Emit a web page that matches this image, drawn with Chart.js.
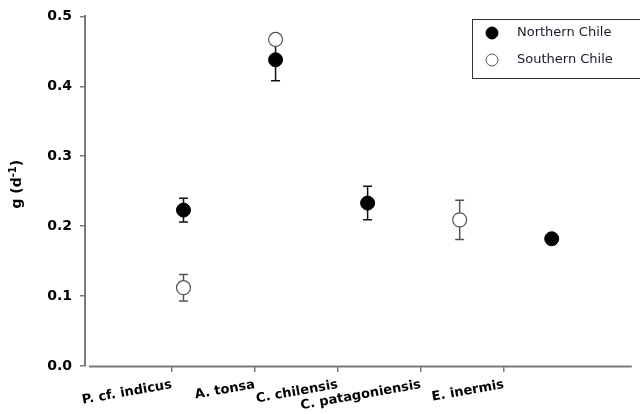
<!DOCTYPE html>
<html>
<head>
<meta charset="utf-8">
<script src="https://cdn.jsdelivr.net/npm/chart.js@4"></script>
<style>
  html, body { margin: 0; padding: 0; background: #fff; }
  #wrap { width: 640px; height: 414px; position: relative; }
</style>
</head>
<body>
<div id="wrap"><canvas id="c" width="640" height="414"></canvas></div>
<script>
// ---- data ----
const categories = ['P. cf. indicus', 'A. tonsa', 'C. chilensis', 'C. patagoniensis', 'E. inermis'];
const northMean = [0.223, 0.438, 0.233, null, 0.182];
const northErr  = [0.017, 0.030, 0.024, null, 0.004];
const southMean = [0.112, 0.467, null, 0.209, null];
const southErr  = [0.019, 0.008, null, 0.028, null];
const yTicks = [0.0, 0.1, 0.2, 0.3, 0.4, 0.5];
const seriesNames = ['Northern Chile', 'Southern Chile'];

const AXIS_COLOR = '#7a7a7a';
const X_TICK_FONT = { family: 'DejaVu Sans', size: 13, weight: 'bold' };
const Y_TICK_FONT = { family: 'DejaVu Sans', size: 14, weight: 'bold' };

function toPoints(arr, errs) {
  return arr.map((v, i) => v === null ? null : { x: i + 1, y: v, err: errs[i] }).filter(p => p);
}

const errorBars = {
  id: 'errorBars',
  beforeDatasetsDraw(chart) {
    const ctx = chart.ctx;
    const ys = chart.scales.y;
    chart.data.datasets.forEach((ds, di) => {
      const meta = chart.getDatasetMeta(di);
      ctx.save();
      ctx.strokeStyle = ds.errColor;
      ctx.lineWidth = 1.5;
      meta.data.forEach((el, i) => {
        const p = ds.data[i];
        const x = el.x;
        const yt = ys.getPixelForValue(p.y + p.err);
        const yb = ys.getPixelForValue(p.y - p.err);
        ctx.beginPath();
        ctx.moveTo(x, yt); ctx.lineTo(x, yb);
        ctx.moveTo(x - 4.5, yt); ctx.lineTo(x + 4.5, yt);
        ctx.moveTo(x - 4.5, yb); ctx.lineTo(x + 4.5, yb);
        ctx.stroke();
      });
      ctx.restore();
    });
  }
};

const decorations = {
  id: 'decorations',
  afterDraw(chart) {
    const ctx = chart.ctx;
    const a = chart.chartArea;
    // x axis line (slightly detached from y axis like the original)
    ctx.save();
    ctx.strokeStyle = AXIS_COLOR;
    ctx.lineWidth = 2;
    ctx.beginPath();
    ctx.moveTo(a.left + 4, a.bottom + 0.5);
    ctx.lineTo(a.right, a.bottom + 0.5);
    ctx.stroke();
    ctx.restore();

    // y axis title with superscript
    ctx.save();
    const cy = (a.top + a.bottom) / 2 - 7;
    ctx.translate(17, cy);
    ctx.rotate(-Math.PI / 2);
    ctx.fillStyle = '#000';
    ctx.textBaseline = 'middle';
    const main1 = 'g (d', sup = '-1', main2 = ')';
    ctx.font = 'bold 14px "DejaVu Sans"';
    const w1 = ctx.measureText(main1).width, w3 = ctx.measureText(main2).width;
    ctx.font = 'bold 10px "DejaVu Sans"';
    const w2 = ctx.measureText(sup).width;
    let x = -(w1 + w2 + w3) / 2;
    ctx.font = 'bold 14px "DejaVu Sans"';
    ctx.textAlign = 'left';
    ctx.fillText(main1, x, 0); x += w1;
    ctx.font = 'bold 10px "DejaVu Sans"';
    ctx.fillText(sup, x, -4); x += w2;
    ctx.font = 'bold 14px "DejaVu Sans"';
    ctx.fillText(main2, x, 0);
    ctx.restore();

    // legend box
    ctx.save();
    ctx.strokeStyle = '#333';
    ctx.lineWidth = 1;
    ctx.strokeRect(472.5, 19.5, 170, 59);
    ctx.font = '13px "DejaVu Sans"';
    ctx.textBaseline = 'middle';
    ctx.textAlign = 'left';
    const rows = [33, 60];
    chart.data.datasets.forEach((ds, i) => {
      ctx.beginPath();
      ctx.arc(492, rows[i], 6, 0, Math.PI * 2);
      ctx.fillStyle = ds.backgroundColor;
      ctx.fill();
      ctx.lineWidth = 1;
      ctx.strokeStyle = ds.borderColor;
      ctx.stroke();
      ctx.fillStyle = '#1a1a2a';
      ctx.fillText(ds.label, 517, rows[i]);
    });
    ctx.restore();
  }
};

new Chart(document.getElementById('c'), {
  type: 'scatter',
  data: {
    datasets: [
      {
        label: seriesNames[0],
        data: toPoints(northMean, northErr),
        xAxisID: 'xd',
        backgroundColor: '#000',
        borderColor: '#000',
        errColor: '#111',
        pointRadius: 7,
        pointHoverRadius: 7,
        borderWidth: 1
      },
      {
        label: seriesNames[1],
        data: toPoints(southMean, southErr),
        xAxisID: 'xd',
        backgroundColor: '#fff',
        borderColor: '#555',
        errColor: '#555',
        pointRadius: 7,
        pointHoverRadius: 7,
        borderWidth: 1.2
      }
    ]
  },
  plugins: [errorBars, decorations],
  options: {
    responsive: false,
    animation: false,
    events: [],
    layout: { padding: { top: 16, right: 0, left: 0, bottom: 0 } },
    plugins: { legend: { display: false }, tooltip: { enabled: false } },
    scales: {
      xd: {
        type: 'linear',
        display: false,
        min: -0.07,
        max: 5.87
      },
      x: {
        type: 'linear',
        position: 'bottom',
        min: -0.044,
        max: 6.54,
        afterBuildTicks(scale) {
          scale.ticks = categories.map((c, i) => ({ value: i + 1 }));
        },
        afterFit(scale) { scale.height = 48; },
        border: { display: false },
        grid: {
          drawOnChartArea: false,
          drawTicks: true,
          tickLength: 6,
          tickColor: AXIS_COLOR,
          lineWidth: 1.5
        },
        ticks: {
          autoSkip: false,
          minRotation: 10,
          maxRotation: 10,
          padding: 5,
          color: '#000',
          font: X_TICK_FONT,
          callback: (v, i) => categories[i]
        }
      },
      y: {
        type: 'linear',
        min: 0,
        max: 0.5,
        afterBuildTicks(scale) {
          scale.ticks = yTicks.map(v => ({ value: v }));
        },
        afterFit(scale) { scale.width = 85; },
        border: { display: true, color: AXIS_COLOR, width: 2 },
        grid: {
          drawOnChartArea: false,
          drawTicks: true,
          tickLength: 5,
          tickColor: AXIS_COLOR,
          lineWidth: 1.5
        },
        ticks: {
          padding: 8,
          color: '#000',
          font: Y_TICK_FONT,
          callback: v => v.toFixed(1)
        }
      }
    }
  }
});
</script>
</body>
</html>
